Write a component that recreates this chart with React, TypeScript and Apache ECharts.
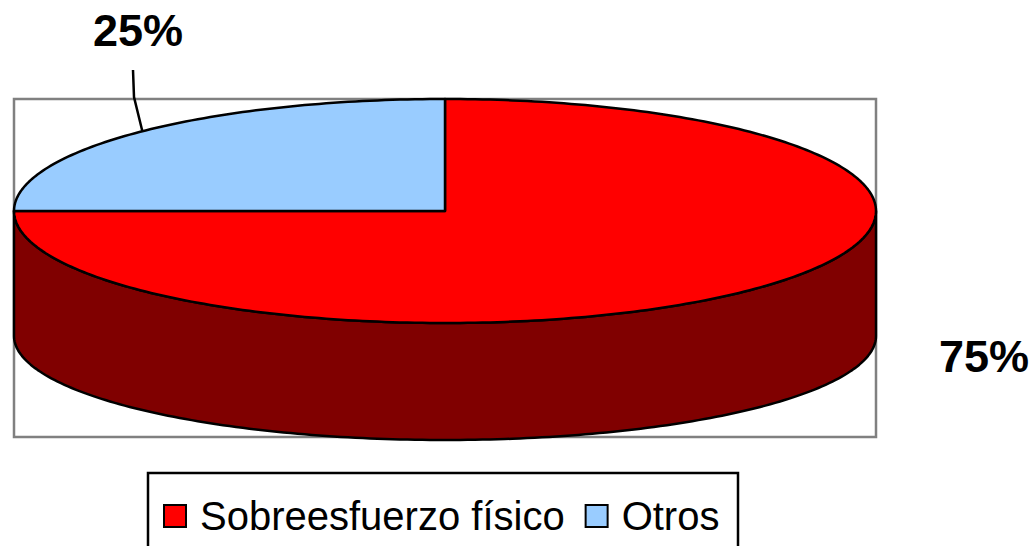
import React, { useEffect, useRef } from "react";
import * as echarts from "echarts";

// ---- data ----
const categories = ["Sobreesfuerzo físico", "Otros"];
const values = [75, 25];
const topColors = ["#FF0000", "#99CCFF"];
const sideColors = ["#800000", "#4D6680"];
const labelTexts = values.map((v) => `${v}%`);

// ---- layout ----
const CX = 445;
const CY = 211;
const RX = 431;
const RY = 112;
const DEPTH = 125;
const RY_BOTTOM = 104;

function sliceAngles(): [number, number][] {
  const total = values.reduce((a, b) => a + b, 0);
  let a = -Math.PI / 2;
  return values.map((v) => {
    const s = a;
    const e = a + (v / total) * Math.PI * 2;
    a = e;
    return [s, e] as [number, number];
  });
}

function arcPts(s: number, e: number, dy = 0, ry = RY): number[][] {
  const pts: number[][] = [];
  const n = Math.max(2, Math.ceil(Math.abs(e - s) / (Math.PI / 180)));
  for (let i = 0; i <= n; i++) {
    const t = s + ((e - s) * i) / n;
    pts.push([CX + RX * Math.cos(t), CY + ry * Math.sin(t) + dy]);
  }
  return pts;
}

function renderSlice(params: any) {
  const idx = params.seriesIndex;
  const [s, e] = sliceAngles()[idx];
  const children: any[] = [];
  // visible front wall: intersection with [0, PI] (mod 2PI)
  for (let k = -1; k <= 1; k++) {
    const lo = Math.max(s, k * 2 * Math.PI);
    const hi = Math.min(e, k * 2 * Math.PI + Math.PI);
    if (hi > lo) {
      const top = arcPts(lo, hi);
      const bottom = arcPts(lo, hi, DEPTH, RY_BOTTOM).reverse();
      children.push({
        type: "polygon",
        shape: { points: top.concat(bottom) },
        style: { fill: sideColors[idx], stroke: "#000", lineWidth: 2.5, lineJoin: "round" },
      });
    }
  }
  const face = [[CX, CY]].concat(arcPts(s, e));
  children.push({
    type: "polygon",
    shape: { points: face },
    style: { fill: topColors[idx], stroke: "#000", lineWidth: 2.5, lineJoin: "round" },
  });
  return { type: "group", children };
}

export default function App() {
  const ref = useRef<HTMLDivElement>(null);
  useEffect(() => {
    if (!ref.current) return;
    const chart = echarts.init(ref.current, null, { renderer: "svg" });
    const [bs, be] = sliceAngles()[1];
    const mid = (bs + be) / 2;
    const lx = CX + RX * Math.cos(mid);
    const ly = CY + RY * Math.sin(mid);
    chart.setOption({
      animation: false,
      backgroundColor: "#fff",
      legend: {
        left: 158,
        top: 491,
        icon: "rect",
        itemWidth: 22,
        itemHeight: 22,
        itemGap: 20,
        textStyle: {
          fontFamily: "Liberation Sans, Arial, sans-serif",
          fontSize: 40,
          color: "#000",
          padding: [0, 0, 0, 9],
        },
        data: categories.map((c, i) => ({
          name: c,
          itemStyle: { color: topColors[i], borderColor: "#000", borderWidth: 2 },
        })),
      },
      graphic: [
        {
          type: "rect",
          z: 0,
          shape: { x: 14, y: 99, width: 862, height: 338 },
          style: { fill: "none", stroke: "#808080", lineWidth: 2.5 },
        },
        {
          type: "rect",
          z: 0,
          shape: { x: 148, y: 473, width: 590, height: 110 },
          style: { fill: "none", stroke: "#000", lineWidth: 2.5 },
        },
        {
          type: "polyline",
          z: 10,
          shape: { points: [[lx + 2, ly - 1], [134, 97], [133, 70]] },
          style: { stroke: "#000", lineWidth: 2.5, fill: "none" },
        },
        {
          type: "text",
          z: 10,
          x: 138,
          y: 30,
          style: {
            text: labelTexts[1],
            font: "bold 45px 'Liberation Sans', Arial, sans-serif",
            fill: "#000",
            align: "center",
            verticalAlign: "middle",
          },
        },
        {
          type: "text",
          z: 10,
          x: 984,
          y: 356,
          style: {
            text: labelTexts[0],
            font: "bold 45px 'Liberation Sans', Arial, sans-serif",
            fill: "#000",
            align: "center",
            verticalAlign: "middle",
          },
        },
      ],
      series: categories.map((c, i) => ({
        type: "custom",
        name: c,
        coordinateSystem: "none",
        z: 2,
        itemStyle: { color: topColors[i] },
        data: [values[i]],
        renderItem: renderSlice,
      })),
    });
    return () => chart.dispose();
  }, []);
  return (
    <div
      ref={ref}
      style={{ position: "fixed", left: 0, top: 0, width: 1036, height: 546 }}
    />
  );
}
